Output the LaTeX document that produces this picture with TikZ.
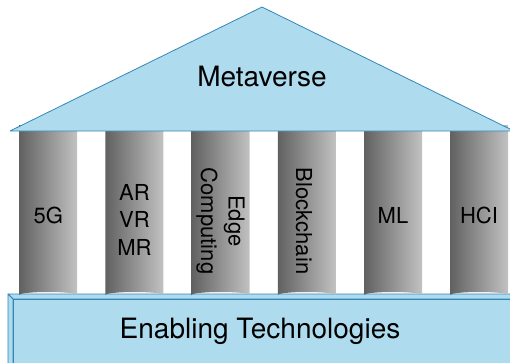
\documentclass[tikz,border=0pt]{standalone}
\usepackage{fontspec}
\setmainfont{TeX Gyre Heros}
\definecolor{roofblue}{RGB}{174,220,238}
\definecolor{edgeblue}{RGB}{52,134,184}
\begin{document}
\begin{tikzpicture}[x=1pt, y=-1pt,
				    block/.style={draw=edgeblue, fill=roofblue, line width=0.8pt, line join=round},
				    pillar/.style={left color=black!62, right color=black!24},
				    bigtext/.style={font=\fontsize{28}{34}\selectfont, text=black, inner sep=0pt},
				    label/.style={font=\fontsize{22}{27.5}\selectfont, text=black, inner sep=0pt, align=center}]
	\useasboundingbox (0,0) rectangle (510,362);
	\clip (0,0) rectangle (510,362);
	
	% base
	\draw[block] (8,294) -- (520,294) -- (525,299) -- (13,299) -- cycle;
	\draw[block] (8,294) -- (13,299) -- (13,370) -- (8,365) -- cycle;
	\draw[block] (13,299) rectangle (525,370);
	\node[bigtext] (base) at (260,331) {Enabling Technologies};
	
	% pillars
	\foreach \i in {0,...,5}
		\shade[pillar] ({48.2+86.2*\i-29},125) -- ({48.2+86.2*\i-29},295)
			arc[start angle=180, end angle=360, x radius=29, y radius=3]
			-- ({48.2+86.2*\i+29},125) -- cycle;
	\node[label] (p1) at (48.2, 215) {5G};
	\node[label] (p2) at (134.4, 219.5) {AR\\VR\\MR};
	\node[label, rotate=-90] (p3) at (220.6, 221) {Edge\\Computing};
	\node[label, rotate=-90] (p4) at (304, 221) {Blockchain};
	\node[label] (p5) at (393, 215) {ML};
	\node[label] (p6) at (479, 215) {HCI};
	
	% roof
	\draw[block] (10,131) -- (262,7) -- (514,131) -- cycle;
	\node[bigtext] (roof) at (262,77) {Metaverse};
	
\end{tikzpicture}
\end{document}
